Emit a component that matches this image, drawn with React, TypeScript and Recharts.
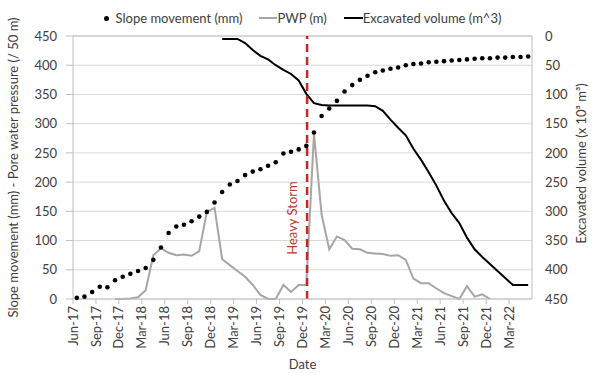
import React from 'react';
import {
  ComposedChart, Line, XAxis, YAxis, CartesianGrid, ReferenceLine
} from 'recharts';

if (typeof document !== 'undefined') document.body.style.margin = '0';

// one value per month, first month = Jun-17
const slopeMovement = [
  2, 4, 12, 21, 20, 32, 38, 43, 48, 53,
  67, 88, 113, 124, 127, 133, 141, 149, 165, 183,
  196, 202, 212, 218, 222, 228, 234, 249, 252, 256,
  262, 285, 313, 326, 339, 355, 366, 375, 382, 388,
  391, 394, 396, 400, 402, 403, 405, 406, 407, 408,
  409, 410, 411, 412, 412, 413, 413, 414, 414, 415,
];

const pwp = [
  null, null, null, null, null, 0, 0, 1, 3, 15,
  75, 87, 79, 75, 76, 74, 82, 149, 156, 68,
  58, 48, 38, 24, 7, 0, 0, 24, 12, 24,
  24, 283, 144, 85, 107, 101, 86, 85, 79, 78,
  77, 74, 75, 67, 35, 27, 27, 18, 10, 5,
  0, 22, 4, 8, 0, null, null, null, null, null,
];

const excavated = [
  null, null, null, null, null, null, null, null, null, null,
  null, null, null, null, null, null, null, null, null, 5,
  5, 5, 12, 24, 34, 40, 50, 58, 65, 76,
  99, 115, 118, 119, 119, 119, 119, 119, 119, 120,
  128, 143, 157, 170, 193, 212, 233, 256, 282, 303,
  320, 345, 365, 378, 390, 402, 414, 426, 426, 426,
];

const tickLabels = [
  'Jun-17', 'Sep-17', 'Dec-17', 'Mar-18', 'Jun-18', 'Sep-18', 'Dec-18',
  'Mar-19', 'Jun-19', 'Sep-19', 'Dec-19', 'Mar-20', 'Jun-20', 'Sep-20',
  'Dec-20', 'Mar-21', 'Jun-21', 'Sep-21', 'Dec-21', 'Mar-22',
];
const xTicks = tickLabels.map((_, i) => i * 3);
const yTicks = [0, 50, 100, 150, 200, 250, 300, 350, 400, 450];
const stormMonth = 30.6;

const data = slopeMovement.map((s, i) => ({
  x: i + 0.5,
  slope: s,
  pwp: pwp[i],
  excavated: excavated[i],
}));

const FONT = 'Lato, "Open Sans", sans-serif';
const TEXT = '#404040';
const AXIS = '#bfbfbf';

const MonthTick = (props: any) => {
  const { x, y, payload } = props;
  const label = tickLabels[Math.round(payload.value / 3)] ?? '';
  return (
    <g transform={`translate(${x},${y})`}>
      <text transform="rotate(-90)" textAnchor="end" dy="0.35em" fontSize={13} fill={TEXT} fontFamily={FONT}>
        {label}
      </text>
    </g>
  );
};

const LeftTitle = (props: any) => {
  const vb = props.viewBox || {};
  const cy = vb.y + vb.height / 2;
  return (
    <text x={13} y={cy} transform={`rotate(-90, 13, ${cy})`} textAnchor="middle" dominantBaseline="central"
      fontSize={13} fill={TEXT} fontFamily={FONT}>
      Slope movement (mm) - Pore water pressure (/ 50 m)
    </text>
  );
};

const RightTitle = (props: any) => {
  const vb = props.viewBox || {};
  const cy = vb.y + vb.height / 2 - 4;
  const cx = 581;
  return (
    <text x={cx} y={cy} transform={`rotate(-90, ${cx}, ${cy})`} textAnchor="middle" dominantBaseline="central"
      fontSize={13} fill={TEXT} fontFamily={FONT}>
      Excavated volume (x 10³ m³)
    </text>
  );
};

const StormLabel = (props: any) => {
  const vb = props.viewBox || {};
  const cx = vb.x - 15;
  const cy = 218;
  return (
    <text x={cx} y={cy} transform={`rotate(-90, ${cx}, ${cy})`} textAnchor="middle" dominantBaseline="central"
      fontSize={13} fill="#c0392b" fontFamily={FONT}>
      Heavy Storm
    </text>
  );
};

const legendItem: React.CSSProperties = { display: 'flex', alignItems: 'center', marginRight: 17 };

const App: React.FC = () => (
  <div style={{ position: 'relative', width: 600, height: 373, background: '#fff' }}>
    <div style={{
      position: 'absolute', left: 73, top: 9, width: 459, display: 'flex', justifyContent: 'center',
      fontFamily: FONT, fontSize: 13, color: TEXT, lineHeight: '18px',
    }}>
      <div style={legendItem}>
        <span style={{ width: 5, height: 5, borderRadius: 3, background: '#000', marginRight: 7 }} />
        Slope movement (mm)
      </div>
      <div style={legendItem}>
        <span style={{ width: 18, height: 2, background: '#a6a6a6' }} />
        PWP (m)
      </div>
      <div style={{ ...legendItem, marginRight: 0 }}>
        <span style={{ width: 19, height: 2, background: '#000' }} />
        Excavated volume (m^3)
      </div>
    </div>
    <ComposedChart width={600} height={373} data={data} margin={{ top: 36, right: 0, bottom: 0, left: 0 }}>
      <CartesianGrid vertical={false} stroke="#d9d9d9" yAxisId="left" />
      <XAxis
        dataKey="x"
        type="number"
        domain={[0, 60]}
        ticks={xTicks}
        interval={0}
        height={74}
        tick={<MonthTick />}
        tickSize={5}
        tickMargin={2}
        stroke={AXIS}
        label={{ value: 'Date', position: 'insideBottom', offset: 4, fill: TEXT, fontSize: 13, fontFamily: FONT }}
      />
      <YAxis
        yAxisId="left"
        domain={[0, 450]}
        ticks={yTicks}
        width={73}
        tickSize={7}
        tickMargin={9}
        stroke={AXIS}
        tick={{ fill: TEXT, fontSize: 13, fontFamily: FONT }}
        label={<LeftTitle />}
      />
      <YAxis
        yAxisId="right"
        orientation="right"
        reversed
        domain={[0, 450]}
        ticks={yTicks}
        width={68}
        tickLine={false}
        tickSize={0}
        tickMargin={13}
        stroke={AXIS}
        tick={{ fill: TEXT, fontSize: 13, fontFamily: FONT, textAnchor: 'start' }}
        label={<RightTitle />}
      />
      <ReferenceLine yAxisId="left" y={450} stroke={AXIS} />
      <Line
        yAxisId="left"
        dataKey="pwp"
        stroke="#a6a6a6"
        strokeWidth={2}
        dot={false}
        type="linear"
        isAnimationActive={false}
      />
      <Line
        yAxisId="right"
        dataKey="excavated"
        stroke="#000"
        strokeWidth={2}
        dot={false}
        type="linear"
        isAnimationActive={false}
      />
      <Line
        yAxisId="left"
        dataKey="slope"
        stroke="none"
        dot={{ r: 2.3, fill: '#000', stroke: 'none' }}
        isAnimationActive={false}
      />
      <ReferenceLine
        yAxisId="left"
        x={stormMonth}
        stroke="#c62828"
        strokeWidth={2.5}
        strokeDasharray="8 5"
        label={<StormLabel />}
      />
    </ComposedChart>
  </div>
);

export default App;
